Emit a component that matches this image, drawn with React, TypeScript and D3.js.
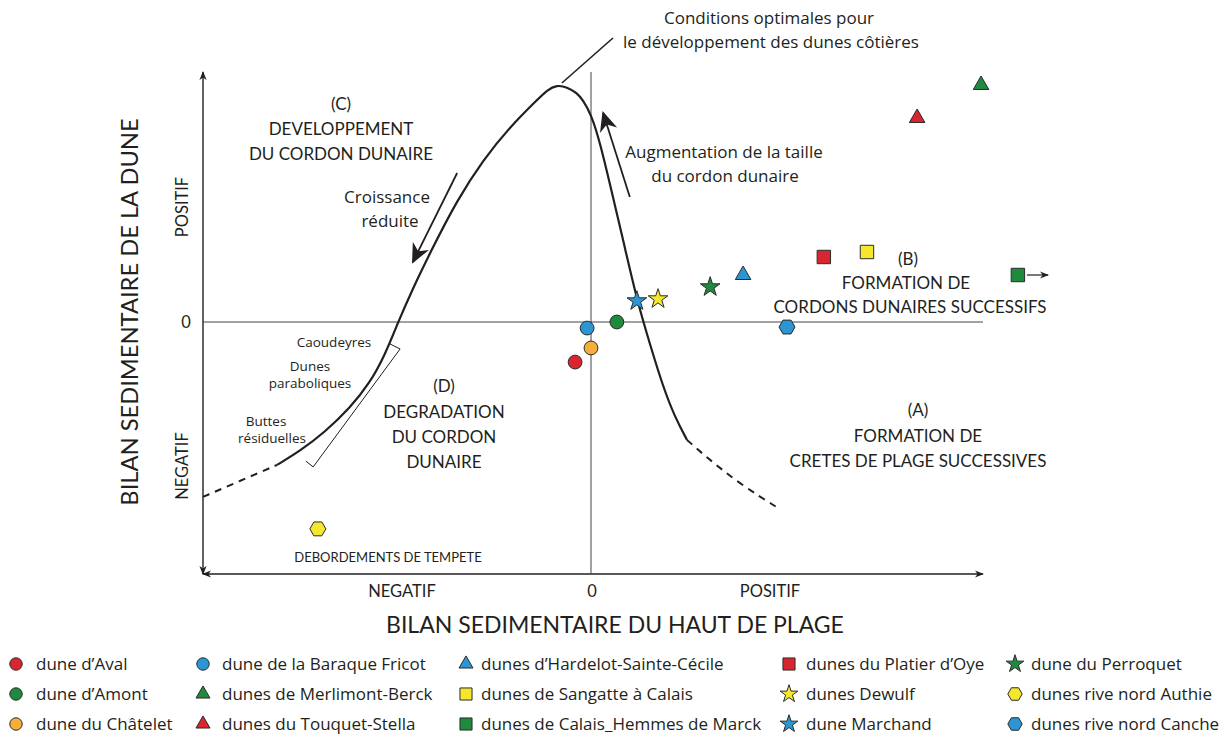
import React from 'react';
import * as d3 from 'd3';

// sites: position on the diagram (upper beach budget, dune budget), arbitrary units -100..100
const siteNames = [
  "dune d’Aval", "dune d’Amont", "dune du Châtelet",
  "dune de la Baraque Fricot", "dunes de Merlimont-Berck", "dunes du Touquet-Stella",
  "dunes d’Hardelot-Sainte-Cécile", "dunes de Sangatte à Calais", "dunes de Calais_Hemmes de Marck",
  "dunes du Platier d’Oye", "dunes Dewulf", "dune Marchand",
  "dune du Perroquet", "dunes rive nord Authie", "dunes rive nord Canche",
];
const siteX = [-4.1, 6.6, 0, -1.0, 99.5, 83.2, 38.8, 70.4, 108.9, 59.4, 17.1, 11.7, 30.4, -70.4, 50.0];
const siteY = [-15.9, 0, -10.3, -2.4, 94.8, 81.6, 18.8, 28.0, 18.8, 26.0, 9.2, 8.4, 14.0, -82.1, -2.0];

// the conceptual curve
const curveLeftDash = [[-100, -69.4], [-90.5, -63.1], [-80.9, -56.7]];
const curveSolid = [
  [-80.9, -56.7], [-75.0, -51.2], [-68.6, -43.7], [-62.1, -34.1], [-57.0, -24.2], [-53.1, -13.1],
  [-49.7, 0], [-46.1, 12.8], [-41.5, 27.6], [-34.5, 48.8], [-27.8, 64.8], [-20.9, 78],
  [-13.9, 88.8], [-11.3, 92.8], [-8.8, 94.8], [-6.2, 94], [-3.6, 91.6], [-2.1, 88.8],
  [0, 83.2], [2.3, 72], [5.6, 50], [8.2, 32.8], [11.7, 8.8], [15.1, -9.1],
  [18.4, -25.8], [21.4, -37.7], [24.5, -46.8],
];
const curveRightDash = [[24.5, -46.8], [29.1, -53.2], [38.0, -64.3], [47.7, -73.8]];

// annotation arrows / leader lines
const arrowCroissance = [[-34.5, 59.6], [-45.9, 24]];
const arrowAugmentation = [[9.9, 50], [3.1, 83.6]];
const leaderOptimum = [[-7.5, 95.6], [5.6, 113.6]];
const bracketDegradation = [[-51.8, -8.7], [-49.2, -10.7], [-71.6, -57.5], [-73.5, -55.2]];
const arrowCalais = [[111.2, 18.8], [116.6, 18.8]];

const symbolStyle: Record<string, { shape: string; color: string }> = {
  "dune d’Aval": { shape: 'circle', color: '#d9252f' },
  "dune d’Amont": { shape: 'circle', color: '#1f8a3d' },
  "dune du Châtelet": { shape: 'circle', color: '#f5ae3a' },
  "dune de la Baraque Fricot": { shape: 'circle', color: '#2c95d3' },
  "dunes de Merlimont-Berck": { shape: 'triangle', color: '#1f8a3d' },
  "dunes du Touquet-Stella": { shape: 'triangle', color: '#d9252f' },
  "dunes d’Hardelot-Sainte-Cécile": { shape: 'triangle', color: '#2c95d3' },
  "dunes de Sangatte à Calais": { shape: 'square', color: '#f4e72e' },
  "dunes de Calais_Hemmes de Marck": { shape: 'square', color: '#1f8a3d' },
  "dunes du Platier d’Oye": { shape: 'square', color: '#d9252f' },
  "dunes Dewulf": { shape: 'star', color: '#f4e72e' },
  "dune Marchand": { shape: 'star', color: '#2c95d3' },
  "dune du Perroquet": { shape: 'star', color: '#1f8a3d' },
  "dunes rive nord Authie": { shape: 'hexagon', color: '#f4e72e' },
  "dunes rive nord Canche": { shape: 'hexagon', color: '#2c95d3' },
};

// caps labels look best in Lato, mixed case in Open Sans (closest to the original Myriad)
const CAPS = 'Lato, "Open Sans", sans-serif';
const MIXED = '"Open Sans", Lato, sans-serif';
const INK = '#231f20';

function hexagon(r: number) {
  const pts = d3.range(6).map((i) => {
    const a = (Math.PI / 3) * i;
    return [r * Math.cos(a), r * Math.sin(a)];
  });
  return 'M' + pts.map((p) => p.join(',')).join('L') + 'Z';
}

function symbolPath(shape: string, k: number) {
  if (shape === 'hexagon') return hexagon(8 * k);
  const types: Record<string, d3.SymbolType> = {
    circle: d3.symbolCircle,
    triangle: d3.symbolTriangle,
    square: d3.symbolSquare,
    star: d3.symbolStar,
  };
  const sizes: Record<string, number> = { circle: 150, triangle: 105, square: 180, star: 120 };
  return d3.symbol().type(types[shape]).size(sizes[shape] * k * k)() || '';
}

export default function App() {
  const x = d3.scaleLinear().domain([-100, 0, 100]).range([203, 591, 983]);
  const y = d3.scaleLinear().domain([-100, 0, 100]).range([574, 322, 72]);

  const smooth = d3.line<number[]>().x((d) => x(d[0])).y((d) => y(d[1])).curve(d3.curveBasis);
  const straight = d3.line<number[]>().x((d) => x(d[0])).y((d) => y(d[1]));

  const legendColX = [16, 203, 466, 789, 1015];
  const legendTextX = [36, 222, 481, 806, 1031];
  const legendRowY = [664, 694, 724];

  const txt = (s: string, tx: number, ty: number, size: number, font = CAPS, anchor = 'middle') => (
    <text x={tx} y={ty} fontSize={size} textAnchor={anchor} fill={INK} fontFamily={font}>{s}</text>
  );

  return (
    <svg width={1227} height={738} style={{ position: 'absolute', left: 0, top: 0, background: '#fff' }}>
      <defs>
        <marker id="ah" viewBox="0 0 10 10" refX="9" refY="5" markerWidth="9" markerHeight="9" orient="auto-start-reverse" markerUnits="userSpaceOnUse">
          <path d="M0,1 L10,5 L0,9 L3,5 Z" fill={INK} />
        </marker>
        <marker id="big" viewBox="0 0 10 10" refX="9" refY="5" markerWidth="20" markerHeight="20" orient="auto" markerUnits="userSpaceOnUse">
          <path d="M0,0.5 L10,5 L0,9.5 L3,5 Z" fill={INK} />
        </marker>
      </defs>

      {/* axes */}
      <line x1={x(-100)} y1={y(100)} x2={x(-100)} y2={y(-100)} stroke={INK} strokeWidth={1.4}
        markerStart="url(#ah)" markerEnd="url(#ah)" />
      <line x1={x(-100)} y1={y(-100)} x2={x(100)} y2={y(-100)} stroke={INK} strokeWidth={1.4}
        markerStart="url(#ah)" markerEnd="url(#ah)" />
      <line x1={x(-100)} y1={y(0)} x2={x(100)} y2={y(0)} stroke="#444" strokeWidth={1} />
      <line x1={x(0)} y1={y(100)} x2={x(0)} y2={y(-100)} stroke="#444" strokeWidth={1} />

      {/* curve */}
      <path d={smooth(curveSolid) || ''} fill="none" stroke={INK} strokeWidth={2.2} />
      <path d={smooth(curveLeftDash) || ''} fill="none" stroke={INK} strokeWidth={2} strokeDasharray="7,6" />
      <path d={smooth(curveRightDash) || ''} fill="none" stroke={INK} strokeWidth={2} strokeDasharray="7,6" />

      {/* annotations */}
      <path d={straight(arrowCroissance) || ''} stroke={INK} strokeWidth={1.8} fill="none" markerEnd="url(#big)" />
      <path d={straight(arrowAugmentation) || ''} stroke={INK} strokeWidth={1.8} fill="none" markerEnd="url(#big)" />
      <path d={straight(leaderOptimum) || ''} stroke={INK} strokeWidth={1.6} fill="none" />
      <path d={straight(bracketDegradation) || ''} stroke={INK} strokeWidth={1} fill="none" />
      <path d={straight(arrowCalais) || ''} stroke={INK} strokeWidth={1.2} fill="none" markerEnd="url(#ah)" />

      {/* site markers */}
      {siteNames.map((n, i) => (
        <path key={n} d={symbolPath(symbolStyle[n].shape, 1)} transform={`translate(${x(siteX[i])},${y(siteY[i])})`}
          fill={symbolStyle[n].color} stroke="#2b2b2b" strokeWidth={1} />
      ))}

      {/* texts in the diagram */}
      {txt('Conditions optimales pour', 769, 24, 17, MIXED)}
      {txt('le développement des dunes côtières', 771, 48, 17, MIXED)}
      {txt('(C)', 341, 110, 17)}
      {txt('DEVELOPPEMENT', 341, 135, 17)}
      {txt('DU CORDON DUNAIRE', 341, 160, 17)}
      {txt('Croissance', 387, 203, 17, MIXED)}
      {txt('réduite', 390, 227, 17, MIXED)}
      {txt('Augmentation de la taille', 724, 158, 17, MIXED)}
      {txt('du cordon dunaire', 725, 182, 17, MIXED)}
      {txt('(B)', 908, 265, 17)}
      {txt('FORMATION DE', 906, 289, 17)}
      {txt('CORDONS DUNAIRES SUCCESSIFS', 910, 313, 17)}
      {txt('(A)', 918, 416, 17)}
      {txt('FORMATION DE', 918, 442, 17)}
      {txt('CRETES DE PLAGE SUCCESSIVES', 918, 467, 17)}
      {txt('(D)', 444, 392, 17)}
      {txt('DEGRADATION', 444, 418, 17)}
      {txt('DU CORDON', 444, 443, 17)}
      {txt('DUNAIRE', 444, 468, 17)}
      {txt('Caoudeyres', 334, 347, 13.5, MIXED)}
      {txt('Dunes', 310, 371, 13.5, MIXED)}
      {txt('paraboliques', 310, 388, 13.5, MIXED)}
      {txt('Buttes', 266, 426, 13.5, MIXED)}
      {txt('résiduelles', 272, 443, 13.5, MIXED)}
      {txt('DEBORDEMENTS DE TEMPETE', 388, 562, 13)}

      {/* axis labels */}
      {txt('NEGATIF', 402, 597, 16.5)}
      {txt('0', 592, 597, 16.5)}
      {txt('POSITIF', 770, 597, 16.5)}
      {txt('BILAN SEDIMENTAIRE DU HAUT DE PLAGE', 615, 633, 23)}
      {txt('0', 186, 328, 16.5)}
      <g transform="translate(188,207) rotate(-90)">{txt('POSITIF', 0, 0, 16.5)}</g>
      <g transform="translate(188,466) rotate(-90)">{txt('NEGATIF', 0, 0, 16.5)}</g>
      <g transform="translate(138,312) rotate(-90)">{txt('BILAN SEDIMENTAIRE DE LA DUNE', 0, 0, 23.7)}</g>

      {/* legend */}
      {siteNames.map((n, i) => {
        const col = Math.floor(i / 3);
        const row = i % 3;
        return (
          <g key={'lg' + n}>
            <path d={symbolPath(symbolStyle[n].shape, 0.9)} transform={`translate(${legendColX[col]},${legendRowY[row]})`}
              fill={symbolStyle[n].color} stroke="#2b2b2b" strokeWidth={1} />
            {txt(n, legendTextX[col], legendRowY[row] + 6, 17, MIXED, 'start')}
          </g>
        );
      })}
    </svg>
  );
}
